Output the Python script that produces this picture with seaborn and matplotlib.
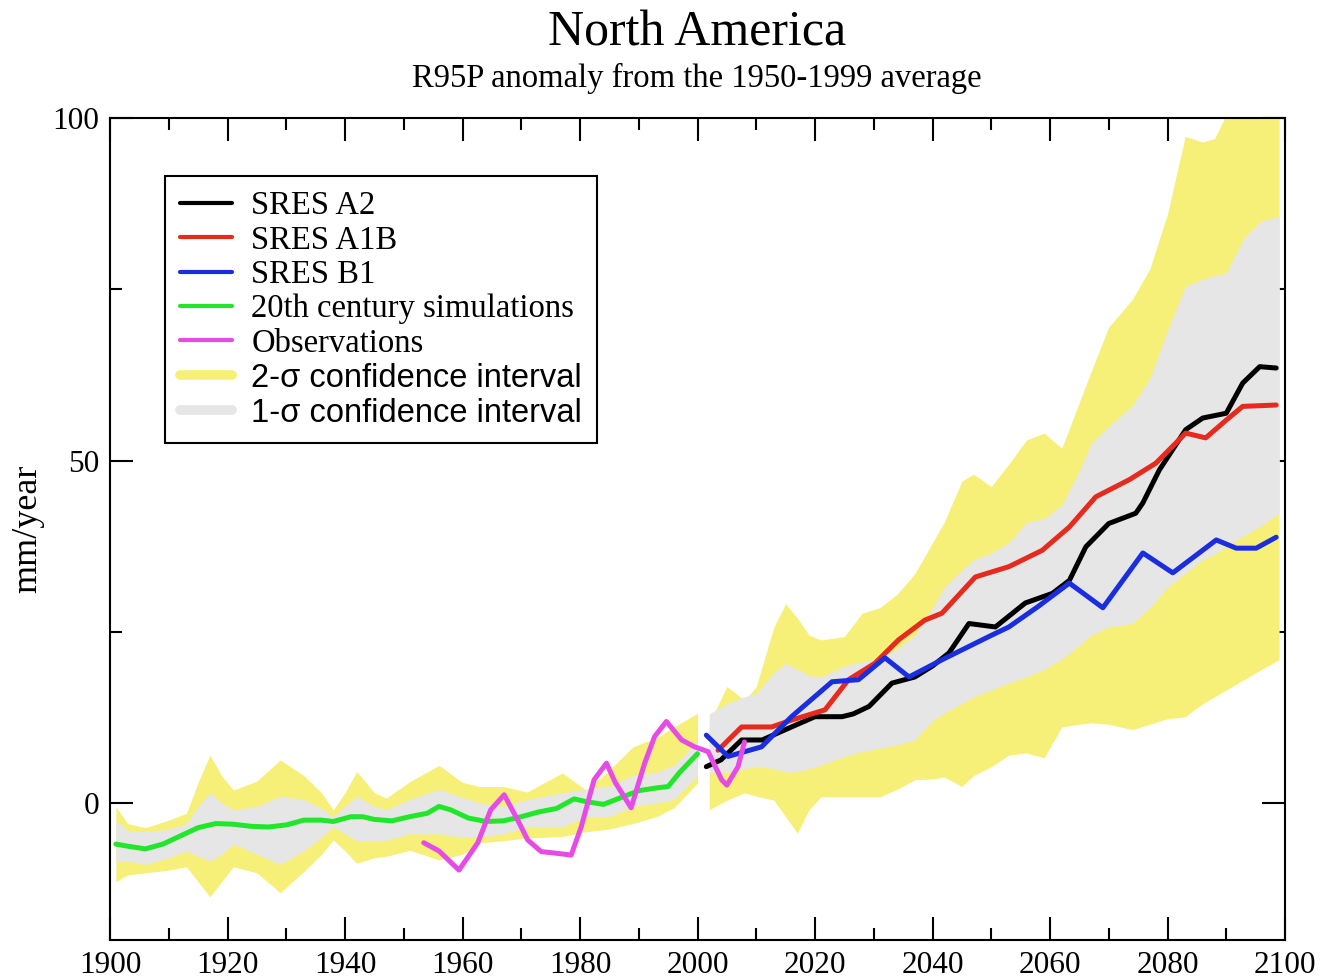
import matplotlib

matplotlib.use("Agg")
import matplotlib.pyplot as plt
import seaborn as sns
from matplotlib.lines import Line2D
from matplotlib.ticker import MultipleLocator

# --- 20th century ensemble band (1-sigma / 2-sigma) ---
band20_years = [1901, 1903, 1906, 1910, 1913, 1915, 1917, 1919, 1921, 1925, 1929,
                1933, 1936, 1938, 1940, 1942, 1945, 1947, 1951, 1956, 1960, 1963,
                1967, 1971, 1974, 1977, 1981, 1985, 1989, 1993, 1996, 2000]
band20_2s_hi = [-0.5, -3.0, -3.6, -2.5, -1.5, 3.0, 7.0, 4.0, 1.9, 3.2, 6.3,
                4.0, 1.5, -1.0, 1.5, 4.6, 1.5, 0.7, 3.1, 5.5, 3.0, 2.4,
                2.4, 1.6, 3.0, 4.4, 1.9, 4.8, 8.2, 9.5, 11.1, 13.1]
band20_1s_hi = [-2.5, -4.0, -4.2, -3.8, -3.0, -0.5, 1.5, 0.0, -1.0, -0.5, 1.0,
                0.5, -0.8, -2.0, -0.5, 1.0, -0.5, -1.0, 0.5, 2.0, 0.8, 0.0,
                -0.5, 0.5, 1.0, 1.5, 2.0, 2.5, 4.0, 4.5, 5.5, 9.0]
band20_1s_lo = [-8.5, -8.5, -9.0, -8.0, -7.0, -7.8, -8.5, -7.5, -6.0, -7.5, -9.0,
                -7.0, -5.0, -3.5, -4.5, -5.5, -5.5, -5.5, -4.5, -4.5, -5.0, -5.0,
                -4.5, -3.5, -3.5, -3.5, -2.0, -2.0, -0.5, 0.0, 0.5, 4.0]
band20_2s_lo = [-11.5, -10.5, -10.2, -9.8, -9.3, -11.5, -13.7, -11.5, -9.3, -10.2, -13.1,
                -10.0, -7.5, -5.4, -7.0, -8.8, -8.0, -7.8, -6.9, -8.3, -7.5, -5.8,
                -5.5, -5.1, -5.0, -4.9, -4.2, -3.8, -3.0, -2.0, -0.7, 2.9]

# --- 21st century ensemble band ---
band21_years = [2002, 2005, 2008, 2010, 2013, 2015, 2017, 2019, 2021, 2025, 2028, 2031,
                2034, 2037, 2040, 2042, 2045, 2047, 2050, 2053, 2056, 2059, 2062, 2065,
                2067, 2070, 2074, 2077, 2080, 2083, 2086, 2088, 2090, 2093, 2096, 2099]
band21_2s_hi = [11.7, 17.0, 15.0, 17.0, 25.7, 29.1, 27.0, 24.5, 23.8, 24.3, 27.7, 28.5,
                30.5, 33.5, 38.0, 41.0, 47.0, 48.0, 46.2, 49.5, 53.0, 54.0, 51.8, 58.5,
                63.0, 69.5, 73.5, 78.0, 86.0, 97.3, 96.5, 97.0, 100.5, 104.0, 104.0, 104.0]
band21_1s_hi = [13.0, 14.5, 15.5, 16.0, 19.0, 20.4, 19.5, 18.6, 18.4, 20.0, 20.6, 21.2,
                22.5, 24.5, 28.5, 31.5, 34.0, 35.5, 36.5, 38.0, 41.0, 41.5, 43.5, 48.5,
                52.5, 55.0, 58.0, 62.0, 69.0, 75.4, 76.5, 77.0, 77.4, 82.5, 85.0, 85.6]
band21_1s_lo = [4.4, 4.5, 5.0, 5.3, 5.0, 4.5, 4.6, 5.0, 5.5, 6.8, 7.5, 8.0,
                8.5, 9.2, 12.0, 13.1, 14.5, 15.5, 16.5, 17.5, 18.4, 19.5, 21.0, 23.0,
                24.5, 25.7, 26.2, 28.5, 31.5, 33.5, 35.5, 36.3, 37.5, 39.0, 40.5, 42.3]
band21_2s_lo = [-1.0, 0.4, 1.5, 1.0, 0.4, -2.0, -4.4, -1.0, 0.9, 0.9, 0.9, 0.9,
                2.0, 3.4, 3.5, 3.8, 2.4, 4.0, 5.3, 7.0, 7.3, 6.6, 11.1, 11.5,
                11.7, 11.5, 10.7, 11.5, 12.3, 12.6, 14.5, 15.5, 16.5, 18.0, 19.5, 20.9]

# --- 20th century simulation mean ---
sim20_years = [1901, 1903, 1906, 1909, 1912, 1915, 1918, 1921, 1924, 1927, 1930, 1933,
               1936, 1938, 1941, 1943, 1945, 1948, 1951, 1954, 1956, 1958, 1961, 1964,
               1967, 1970, 1973, 1976, 1979, 1981, 1984, 1987, 1990, 1993, 1995, 1997, 2000]
sim20_vals = [-6.0, -6.3, -6.7, -6.0, -4.8, -3.6, -3.0, -3.1, -3.4, -3.5, -3.2, -2.5,
              -2.5, -2.7, -2.0, -2.0, -2.4, -2.6, -2.0, -1.5, -0.5, -1.0, -2.2, -2.7,
              -2.6, -2.0, -1.3, -0.8, 0.6, 0.2, -0.2, 0.8, 1.8, 2.2, 2.4, 4.5, 7.2]

# --- observations ---
obs_years = [1953.4, 1956.0, 1959.4, 1962.6, 1964.8, 1967.1, 1969.4, 1971.1, 1973.4,
             1975.6, 1978.5, 1980.2, 1982.4, 1984.5, 1986.0, 1988.7, 1991.0, 1992.7,
             1994.7, 1997.3, 1999.5, 2001.8, 2004.1, 2005.0, 2006.9, 2008.0]
obs_vals = [-5.8, -7.0, -9.8, -5.8, -1.0, 1.2, -2.5, -5.4, -7.1,
            -7.3, -7.6, -3.5, 3.4, 5.8, 3.0, -0.7, 5.8, 9.7,
            11.9, 9.2, 8.2, 7.5, 3.4, 2.6, 5.3, 8.9]

# --- scenario means ---
a2_years = [2001.5, 2004.0, 2007.5, 2011.0, 2016.0, 2020.0, 2024.6, 2026.5, 2029.2,
            2033.1, 2037.0, 2040.0, 2042.8, 2046.2, 2050.7, 2055.8, 2060.4, 2063.3,
            2066.1, 2070.0, 2074.6, 2075.8, 2078.6, 2083.1, 2086.0, 2090.0, 2092.8,
            2095.7, 2098.5]
a2_vals = [5.3, 6.3, 9.2, 9.2, 11.1, 12.6, 12.6, 13.0, 14.1,
           17.5, 18.4, 20.0, 21.9, 26.2, 25.7, 29.2, 30.6, 32.5,
           37.4, 40.8, 42.3, 43.8, 48.6, 54.5, 56.2, 56.9, 61.3,
           63.7, 63.5]

a1b_years = [2003.5, 2007.5, 2012.6, 2016.0, 2021.7, 2025.7, 2030.2, 2034.2, 2038.7,
             2041.6, 2047.3, 2053.0, 2058.7, 2063.3, 2067.8, 2073.5, 2078.0, 2083.1,
             2086.5, 2090.0, 2092.8, 2098.5]
a1b_vals = [7.7, 11.1, 11.1, 12.1, 13.6, 18.0, 20.4, 23.8, 26.7,
            27.7, 33.0, 34.5, 36.9, 40.3, 44.7, 47.2, 49.6, 54.0,
            53.3, 55.9, 57.9, 58.1]

b1_years = [2001.5, 2005.2, 2010.9, 2016.0, 2022.9, 2027.4, 2031.9, 2036.0, 2041.6,
            2049.6, 2053.0, 2058.0, 2063.3, 2069.0, 2075.8, 2080.9, 2088.3, 2091.7,
            2095.1, 2098.5]
b1_vals = [9.9, 6.8, 8.2, 12.6, 17.7, 18.0, 21.2, 18.4, 20.9,
           24.3, 25.7, 28.7, 32.1, 28.5, 36.5, 33.6, 38.4, 37.2,
           37.2, 38.8]

YELLOW = "#f6f078"
GREY = "#e6e6e6"
SERIF = ["Liberation Serif", "DejaVu Serif"]
SANS = ["Liberation Sans", "DejaVu Sans"]

sns.set_theme(style="white")
plt.rcParams["font.family"] = SERIF
plt.rcParams.update({"text.color": "black", "axes.labelcolor": "black",
                     "xtick.color": "black", "ytick.color": "black"})

fig = plt.figure(figsize=(13.22, 9.8), dpi=100)
ax = fig.add_axes([110 / 1322, 1 - 940 / 980, 1175 / 1322, 822 / 980])

# bands
for yrs, y2hi, y1hi, y1lo, y2lo in [
    (band20_years, band20_2s_hi, band20_1s_hi, band20_1s_lo, band20_2s_lo),
    (band21_years, band21_2s_hi, band21_1s_hi, band21_1s_lo, band21_2s_lo),
]:
    ax.fill_between(yrs, y2lo, y2hi, color=YELLOW, linewidth=0, zorder=1)
    ax.fill_between(yrs, y1lo, y1hi, color=GREY, linewidth=0, zorder=2)

# lines
series = [
    (sim20_years, sim20_vals, "#22e62a"),
    (a2_years, a2_vals, "black"),
    (a1b_years, a1b_vals, "#e62a1e"),
    (b1_years, b1_vals, "#1a2ee0"),
    (obs_years, obs_vals, "#e64be6"),
]
for xs, ys, col in series:
    sns.lineplot(x=xs, y=ys, color=col, linewidth=3.6, ax=ax, legend=False,
                 estimator=None, sort=False, zorder=3)

ax.set_xlim(1900, 2100)
ax.set_ylim(-20, 100)
ax.xaxis.set_major_locator(MultipleLocator(20))
ax.xaxis.set_minor_locator(MultipleLocator(10))
ax.yaxis.set_major_locator(MultipleLocator(50))
ax.yaxis.set_minor_locator(MultipleLocator(25))
ax.tick_params(which="both", direction="in", top=True, right=True, bottom=True,
               left=True, width=1.5, color="black")
ax.tick_params(which="major", length=16.5, labelsize=22.5, pad=8)
ax.tick_params(which="minor", length=8.5)
for sp in ax.spines.values():
    sp.set_linewidth(1.5)
    sp.set_color("black")

ax.set_xlabel("")
ax.set_ylabel("mm/year", fontsize=26)
ax.yaxis.set_label_coords(-0.056, 0.5)

fig.text(697 / 1322, 1 - 33 / 980, "North America", ha="center", va="center",
         fontsize=36)
fig.text(697 / 1322, 1 - 78 / 980, "R95P anomaly from the 1950-1999 average",
         ha="center", va="center", fontsize=23.5)

handles = [
    Line2D([], [], color="black", linewidth=3),
    Line2D([], [], color="#e62a1e", linewidth=3),
    Line2D([], [], color="#1a2ee0", linewidth=3),
    Line2D([], [], color="#22e62a", linewidth=3),
    Line2D([], [], color="#e64be6", linewidth=3),
    Line2D([], [], color=YELLOW, linewidth=7),
    Line2D([], [], color=GREY, linewidth=7),
]
labels = ["SRES A2", "SRES A1B", "SRES B1", "20th century simulations",
          "Observations", "2-\u03c3 confidence interval", "1-\u03c3 confidence interval"]
leg = ax.legend(handles, labels, loc="upper left",
                bbox_to_anchor=(55 / 1175, (940 - 176) / 822), borderaxespad=0,
                fontsize=23.5, frameon=True, fancybox=False, framealpha=1,
                edgecolor="black", handlelength=1.6, handletextpad=0.6,
                labelspacing=0.12, borderpad=0.45)
leg.get_frame().set_linewidth(1.5)
for t in leg.get_texts()[5:]:
    t.set_fontfamily(SANS)

fig.savefig("out.png", dpi=100)
plt.close(fig)
